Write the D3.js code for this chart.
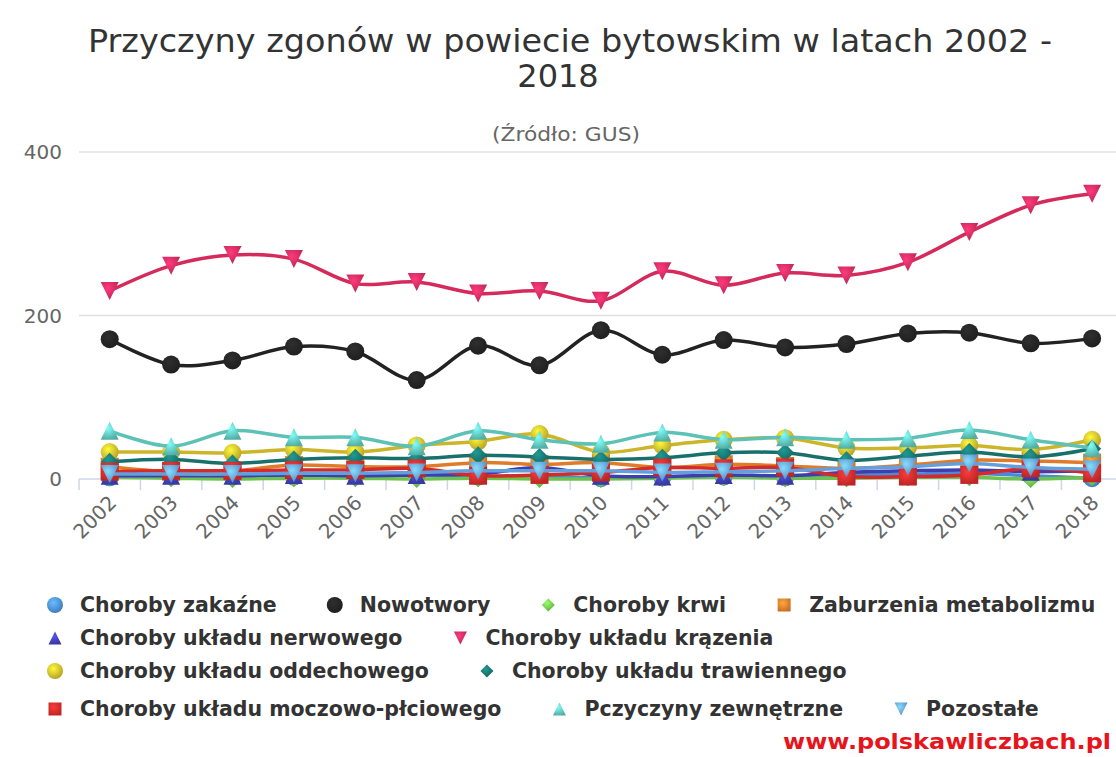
<!DOCTYPE html>
<html>
<head>
<meta charset="utf-8">
<script src="https://cdn.jsdelivr.net/npm/d3@7"></script>
<style>
  body { margin: 0; background: #fff; }
  svg { display: block; font-family: "DejaVu Sans", sans-serif; }
</style>
</head>
<body>
<svg id="chart" width="1116" height="757"></svg>
<script>
// categories
var years = ["2002","2003","2004","2005","2006","2007","2008","2009","2010","2011","2012","2013","2014","2015","2016","2017","2018"];

// series values
var zakazne      = [2, 4, 3, 3, 4, 5, 3, 4, 1, 2, 3, 2, 5, 6, 7, 4, 1];
var nowotwory    = [171, 140, 145, 162, 156, 121, 163, 139, 182, 152, 170, 161, 165, 178, 179, 166, 172];
var krwi         = [2, 1, 0, 1, 1, 0, 1, 0, 0, 1, 2, 1, 1, 2, 2, 0, 2];
var metabolizm   = [15, 9, 10, 17, 15, 15, 20, 18, 20, 14, 18, 16, 13, 17, 23, 22, 20];
var nerwowy      = [4, 4, 4, 5, 4, 5, 6, 14, 4, 3, 5, 4, 8, 10, 11, 9, 10];
var krazenia     = [230, 261, 274, 269, 239, 241, 227, 230, 218, 254, 237, 252, 249, 265, 302, 335, 349];
var oddechowy    = [33, 33, 32, 36, 33, 41, 46, 55, 33, 41, 48, 50, 38, 38, 41, 36, 48];
var trawienny    = [21, 24, 19, 24, 26, 25, 29, 27, 24, 26, 32, 32, 23, 28, 33, 27, 37];
var moczowy      = [9, 10, 10, 11, 11, 13, 4, 5, 8, 14, 13, 14, 3, 3, 5, 13, 7];
var zewnetrzne   = [59, 40, 59, 51, 51, 40, 59, 48, 43, 57, 48, 51, 48, 50, 60, 48, 38];
var pozostale    = [6, 6, 6, 7, 7, 8, 10, 10, 10, 8, 9, 10, 13, 15, 19, 14, 12];

var yTicks = [0, 200, 400];

var series = [
  {name: "Choroby zakaźne", data: zakazne, color: "#4a8ad6", symbol: "circle"},
  {name: "Nowotwory", data: nowotwory, color: "#222222", symbol: "circle"},
  {name: "Choroby krwi", data: krwi, color: "#6cc24a", symbol: "diamond"},
  {name: "Zaburzenia metabolizmu", data: metabolizm, color: "#e07b2a", symbol: "square"},
  {name: "Choroby układu nerwowego", data: nerwowy, color: "#3e3eb0", symbol: "triangle"},
  {name: "Choroby układu krązenia", data: krazenia, color: "#d42a5c", symbol: "triangle-down"},
  {name: "Choroby układu oddechowego", data: oddechowy, color: "#cdb52a", symbol: "circle"},
  {name: "Choroby układu trawiennego", data: trawienny, color: "#17706b", symbol: "diamond"},
  {name: "Choroby układu moczowo-płciowego", data: moczowy, color: "#d42a2a", symbol: "square"},
  {name: "Pczyczyny zewnętrzne", data: zewnetrzne, color: "#5cc2b6", symbol: "triangle"},
  {name: "Pozostałe", data: pozostale, color: "#629fdc", symbol: "triangle-down"}
];

var svg = d3.select("#chart");
var plotLeft = 79, plotBottom = 479, plotTop = 152;

var x = d3.scaleBand().domain(years).range([plotLeft, plotLeft + 17 * 61.4]);
var y = d3.scaleLinear().domain([0, 400]).range([plotBottom, plotTop]);

// gradients for the shiny markers
var defs = svg.append("defs");
series.forEach(function (s, i) {
  var g = defs.append("radialGradient").attr("id", "grad" + i)
    .attr("cx", "40%").attr("cy", "35%").attr("r", "65%");
  g.append("stop").attr("offset", "0%").attr("stop-color", d3.color(s.color).brighter(0.9));
  g.append("stop").attr("offset", "100%").attr("stop-color", d3.color(s.color).darker(0.3));
});

function symbolPath(type, cx, cy, r) {
  if (type == "square") return "M" + (cx - r) + "," + (cy - r) + "h" + 2 * r + "v" + 2 * r + "h" + (-2 * r) + "Z";
  if (type == "diamond") return "M" + cx + "," + (cy - r) + "L" + (cx + r) + "," + cy + "L" + cx + "," + (cy + r) + "L" + (cx - r) + "," + cy + "Z";
  if (type == "triangle") return "M" + cx + "," + (cy - r) + "L" + (cx + r) + "," + (cy + r) + "L" + (cx - r) + "," + (cy + r) + "Z";
  if (type == "triangle-down") return "M" + (cx - r) + "," + (cy - r) + "L" + (cx + r) + "," + (cy - r) + "L" + cx + "," + (cy + r) + "Z";
  return "M" + (cx - r) + "," + cy + "a" + r + "," + r + " 0 1,0 " + 2 * r + ",0a" + r + "," + r + " 0 1,0 " + (-2 * r) + ",0Z";
}

// title
svg.append("text").attr("x", 570).attr("y", 52).attr("text-anchor", "middle")
  .attr("font-size", 32).attr("fill", "#333")
  .attr("textLength", 964).attr("lengthAdjust", "spacingAndGlyphs")
  .text("Przyczyny zgonów w powiecie bytowskim w latach 2002 -");
svg.append("text").attr("x", 558).attr("y", 87).attr("text-anchor", "middle")
  .attr("font-size", 32).attr("fill", "#333")
  .text("2018");
svg.append("text").attr("x", 566).attr("y", 141).attr("text-anchor", "middle")
  .attr("font-size", 20).attr("fill", "#666")
  .attr("textLength", 148).attr("lengthAdjust", "spacingAndGlyphs")
  .text("(Źródło: GUS)");

// grid
svg.append("g").selectAll("line").data(yTicks.filter(function (d) { return d > 0; }))
  .enter().append("line")
  .attr("x1", plotLeft).attr("x2", 1116)
  .attr("y1", function (d) { return y(d); }).attr("y2", function (d) { return y(d); })
  .attr("stroke", "#e0e0e0").attr("stroke-width", 1.5);

svg.append("g").selectAll("text").data(yTicks).enter().append("text")
  .attr("x", 62).attr("y", function (d) { return y(d) + 7; })
  .attr("text-anchor", "end").attr("font-size", 20).attr("fill", "#666")
  .text(function (d) { return d; });

// x axis
var xAxis = svg.append("g");
xAxis.append("line").attr("x1", plotLeft).attr("x2", 1116).attr("y1", plotBottom).attr("y2", plotBottom)
  .attr("stroke", "#ccd6eb").attr("stroke-width", 1.5);
xAxis.selectAll("line.tick").data(years).enter().append("line").attr("class", "tick")
  .attr("x1", function (d) { return x(d); }).attr("x2", function (d) { return x(d); })
  .attr("y1", plotBottom).attr("y2", plotBottom + 11)
  .attr("stroke", "#ccd6eb").attr("stroke-width", 1.5);
xAxis.selectAll("text").data(years).enter().append("text")
  .attr("transform", function (d) {
    return "translate(" + (x(d) + x.bandwidth() / 2 + 8) + "," + (plotBottom + 25) + ") rotate(-45)";
  })
  .attr("text-anchor", "end").attr("font-size", 20).attr("fill", "#666")
  .text(function (d) { return d; });

// lines
var line = d3.line()
  .x(function (d, i) { return x(years[i]) + x.bandwidth() / 2; })
  .y(function (d) { return y(d); })
  .curve(d3.curveCardinal.tension(0));

var plot = svg.append("g");
series.forEach(function (s, i) {
  var g = plot.append("g");
  g.append("path").attr("d", line(s.data))
    .attr("fill", "none").attr("stroke", s.color).attr("stroke-width", 3.5);
  g.selectAll("path.m").data(s.data).enter().append("path").attr("class", "m")
    .attr("d", function (d, j) { return symbolPath(s.symbol, x(years[j]) + x.bandwidth() / 2, y(d), 9); })
    .attr("fill", "url(#grad" + i + ")");
});

// legend, flowing items into rows
var legend = svg.append("g");
var lx = 47, row = 0;
var rowY = [605, 638, 671, 709];
series.forEach(function (s, i) {
  var item = legend.append("g");
  var t = item.append("text").attr("x", 33).attr("y", 7)
    .attr("font-size", 20.5).attr("font-weight", "bold").attr("fill", "#333")
    .text(s.name);
  var w = 33 + t.node().getComputedTextLength();
  if (lx + w > 1110) { row++; lx = 47; }
  item.attr("transform", "translate(" + lx + "," + rowY[row] + ")");
  item.append("path").attr("d", symbolPath(s.symbol, 8, 0, s.symbol == "circle" ? 8 : 6.5))
    .attr("fill", "url(#grad" + i + ")");
  lx += w + 50;
});

svg.append("text").attr("x", 783).attr("y", 749)
  .attr("font-size", 22).attr("font-weight", "bold").attr("fill", "#e8141c")
  .attr("textLength", 328).attr("lengthAdjust", "spacingAndGlyphs")
  .text("www.polskawliczbach.pl");
</script>
</body>
</html>
